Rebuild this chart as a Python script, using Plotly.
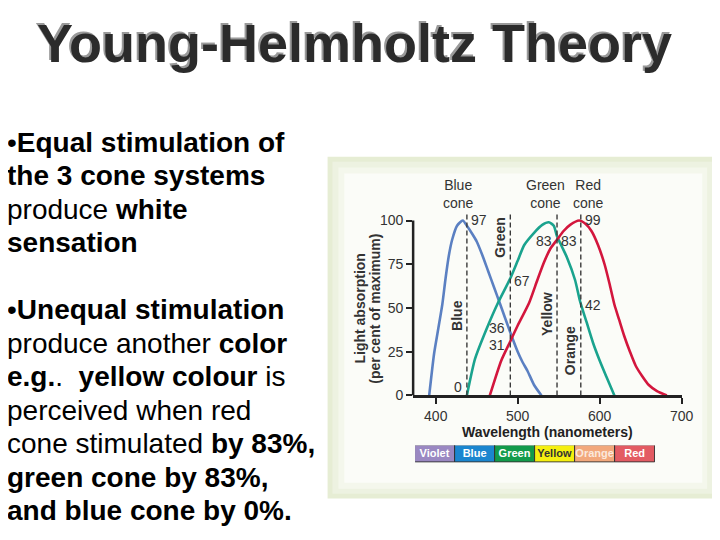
import plotly.graph_objects as go

# ---------------- data ----------------
blue_nm = [392, 398, 403, 408, 412, 416, 420, 426, 433, 438, 445, 450, 457, 464, 471, 478, 491, 500, 506, 512, 520, 529]
blue_abs = [0, 24, 38, 52, 67, 80, 89, 97, 100, 97, 92, 88, 80, 71, 62, 53, 36, 25, 19, 14, 6, 0]

green_nm = [438, 448, 462, 476, 491, 500, 508, 520, 530, 538, 544, 548, 554, 560, 570, 576, 584, 592, 600, 608, 618]
green_abs = [0, 21, 38, 53, 67, 77, 86, 93, 97.5, 99, 97, 91, 85, 79, 66, 54, 42, 30, 20, 11, 0]

red_nm = [466, 480, 491, 500, 514, 524, 532, 540, 548, 556, 564, 575, 583, 590, 598, 606, 612, 618, 624, 630, 637, 644, 652, 660, 670, 682]
red_abs = [0, 20, 31, 40, 53, 66, 76, 84, 89, 94, 97.5, 100, 98, 94, 86, 75, 64, 52, 43, 34, 25, 17, 11, 6, 2.5, 0]

# reference wavelengths (dashed lines) and their names
ref_names = ["Blue", "Green", "Yellow", "Orange"]
ref_nm = [438, 491, 548, 577]

# absorption read-outs at the reference lines
readout_text = ["97", "0", "67", "36", "31", "83", "83", "99", "42"]
readout_nm = [438, 438, 491, 491, 491, 548, 548, 577, 577]

cone_labels = ["Blue<br>cone", "Green<br>cone", "Red<br>cone"]
cone_nm = [427.6, 534, 586.8]

x_ticks = [400, 500, 600, 700]
y_ticks = [0, 25, 50, 75, 100]

spectrum_names = ["Violet", "Blue", "Green", "Yellow", "Orange", "Red"]
spectrum_colors = ["#9a88c2", "#1b86cf", "#129b4b", "#f5ef10", "#f2a87c", "#e35b63"]
spectrum_text_colors = ["white", "white", "white", "#333333", "#fbe9dc", "white"]

title_text = "Young-Helmholtz Theory"
body_lines = [
    "•<b>Equal stimulation of</b>",
    "<b>the 3 cone systems</b>",
    "produce <b>white</b>",
    "<b>sensation</b>",
    None,
    "•<b>Unequal stimulation</b>",
    "produce another <b>color</b>",
    "<b>e.g.</b>.  <b>yellow colour</b> is",
    "perceived when red",
    "cone stimulated <b>by 83%,</b>",
    "<b>green cone by 83%,</b>",
    "<b>and blue cone by 0%.</b>",
]

# ---------------- layout helpers ----------------
W, H = 720, 540
FONT = "Arial, Liberation Sans, sans-serif"


def px(x):
    return x / W


def py(y):
    return 1 - y / H


fig = go.Figure()

# panel background (layered for a soft border)
for (x0, y0, x1, y1, col) in [
    (325, 151, 722, 498, "#e6edd4"),
    (330, 156, 716, 493, "#edf2e1"),
    (336, 162, 711, 488, "#f4f7ec"),
    (342, 168, 706, 482, "#fbfcf8"),
]:
    fig.add_shape(type="rect", xref="paper", yref="paper",
                  x0=px(x0), x1=px(x1), y0=py(y1), y1=py(y0),
                  fillcolor=col, line=dict(width=0), layer="below")

# curves
for nm, ab, col in [(blue_nm, blue_abs, "#5b80c2"),
                    (green_nm, green_abs, "#1aa38e"),
                    (red_nm, red_abs, "#d3163d")]:
    fig.add_trace(go.Scatter(x=nm, y=ab, mode="lines",
                             line=dict(color=col, width=2.6, shape="spline", smoothing=0.6),
                             hoverinfo="skip", xaxis="x", yaxis="y"))

# dashed reference lines
for wl in ref_nm:
    fig.add_shape(type="line", xref="x", yref="y", x0=wl, x1=wl, y0=0, y1=104,
                  line=dict(color="#3a3a3a", width=1.4, dash="5px,3px"))

# y axis line (0..100)
fig.add_shape(type="line", xref="x domain", yref="y", x0=0, x1=0, y0=0, y1=100,
              line=dict(color="#222222", width=2.5))

# rotated names next to dashed lines
name_y = [46, 90.4, 46.6, 25.8]
for name, wl, yy in zip(ref_names, ref_nm, name_y):
    fig.add_annotation(x=wl, y=yy, xref="x", yref="y", text=f"<b>{name}</b>",
                       textangle=-90, showarrow=False, xshift=-10,
                       xanchor="center", yanchor="middle",
                       font=dict(family=FONT, size=14, color="#333333"))

# numeric read-outs
readout_y = [100.4, 5, 65.3, 38.5, 29, 88.2, 88.2, 100.4, 51.6]
readout_side = ["r", "l", "r", "l", "l", "l", "r", "r", "r"]
for t, wl, yy, side in zip(readout_text, readout_nm, readout_y, readout_side):
    fig.add_annotation(x=wl, y=yy, xref="x", yref="y", text=t, showarrow=False,
                       xanchor="left" if side == "r" else "right", yanchor="middle",
                       xshift=2 if side == "r" else -3,
                       font=dict(family=FONT, size=14, color="#333333"))

# cone labels (above the plot area)
for t, wl in zip(cone_labels, cone_nm):
    fig.add_annotation(x=wl, y=py(188.5), xref="x", yref="paper", text=t, showarrow=False,
                       xanchor="center", yanchor="middle",
                       font=dict(family=FONT, size=14, color="#333333"))

# y axis title (two rotated lines)
for t, xx in [("<b>Light absorption</b>", 358), ("<b>(per cent of maximum)</b>", 373.5)]:
    fig.add_annotation(x=px(xx), y=py(305), xref="paper", yref="paper", text=t,
                       textangle=-90, showarrow=False, xanchor="center", yanchor="middle",
                       font=dict(family=FONT, size=14, color="#333333"))

# spectrum strip
fig.add_trace(go.Bar(x=spectrum_names, y=[1] * len(spectrum_names),
                     marker=dict(color=spectrum_colors, line=dict(color="#333333", width=1)),
                     text=[f"<b>{n}</b>" for n in spectrum_names], textposition="inside",
                     insidetextanchor="middle", constraintext="none", textangle=0,
                     textfont=dict(family=FONT, size=11, color=spectrum_text_colors),
                     hoverinfo="skip", xaxis="x2", yaxis="y2"))

# title with grey offset shadow
fig.add_annotation(x=px(352), y=py(36), xref="paper", yref="paper", text=f"<b>{title_text}</b>",
                   showarrow=False, xanchor="center", yanchor="middle",
                   font=dict(family=FONT, size=54, color="#2b2b2b",
                             shadow="-2px -2px 0px #9a9a9a"))

# body text
for k, line in enumerate(body_lines):
    if line is None:
        continue
    center = 136.3 + 34.0 * k
    fig.add_annotation(x=px(-3), y=py(center), xref="paper", yref="paper", text=line,
                       showarrow=False, xanchor="left", yanchor="middle",
                       font=dict(family=FONT, size=28, color="#000000"))

x_left_px, x_right_px = 412, 685
nm_per_px = 100 / 83.333
fig.update_layout(
    width=W, height=H, autosize=False,
    margin=dict(l=0, r=0, t=0, b=0),
    paper_bgcolor="white", plot_bgcolor="rgba(0,0,0,0)",
    showlegend=False, bargap=0,
    xaxis=dict(domain=[px(x_left_px), px(x_right_px)],
               range=[400 - (435 - x_left_px) * nm_per_px, 700],
               tickvals=x_ticks, ticks="outside", ticklen=6, tickwidth=2, tickcolor="#222222",
               showline=True, linewidth=2.5, linecolor="#222222",
               showgrid=False, zeroline=False,
               tickfont=dict(family=FONT, size=14, color="#333333"),
               title=dict(text="<b>Wavelength (nanometers)</b>", standoff=2,
                          font=dict(family=FONT, size=14, color="#222222"))),
    yaxis=dict(domain=[py(393.3), py(393.3 - 105 * 1.776)], range=[0, 105],
               tickvals=y_ticks, ticks="outside", ticklen=6, tickwidth=2, tickcolor="#222222",
               showline=False, showgrid=False, zeroline=False,
               tickfont=dict(family=FONT, size=14, color="#333333")),
    xaxis2=dict(domain=[px(414), px(658)], visible=False, anchor="y2"),
    yaxis2=dict(domain=[py(461.7), py(444)], range=[0, 1], visible=False, anchor="x2"),
)

fig.write_html("out.html")
